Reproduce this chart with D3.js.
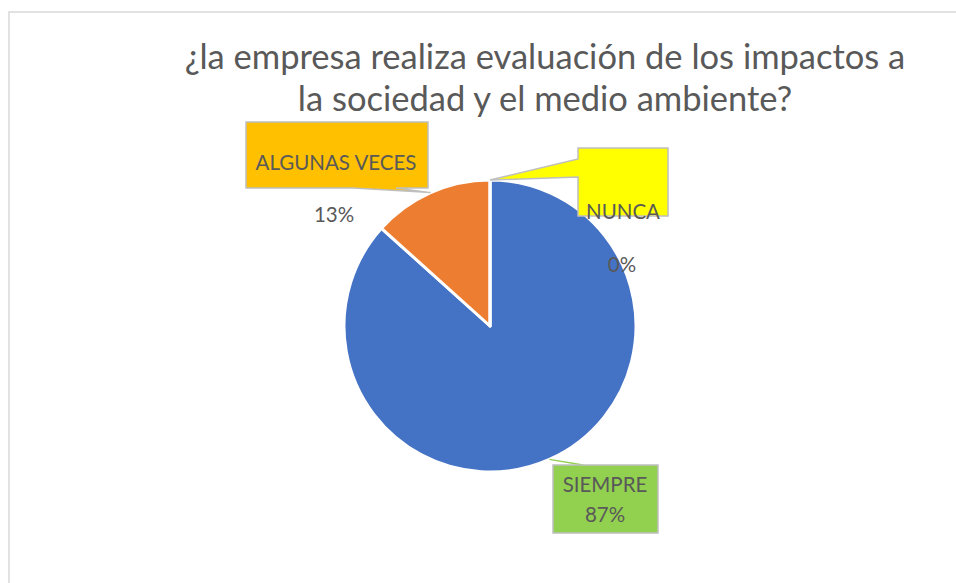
<!DOCTYPE html>
<html>
<head>
<meta charset="utf-8">
<script src="https://cdn.jsdelivr.net/npm/d3@7"></script>
<style>
  body { margin: 0; background: #fff; }
  svg text { font-family: Lato, "Open Sans", sans-serif; fill: #595959; }
</style>
</head>
<body>
<div class="chart"></div>
<script>
// data
var categories = ["SIEMPRE", "ALGUNAS VECES", "NUNCA"];
var counts = [26, 4, 0];
var sliceColors = ["#4472C4", "#ED7D31", "#A5A5A5"];
var boxColors = ["#92D050", "#FFC000", "#FFFF00"];
var titleLines = ["¿la empresa realiza evaluación de los impactos a", "la sociedad y el medio ambiente?"];

var width = 956, height = 583;
var cx = 490, cy = 326, radius = 146;

var svg = d3.select(".chart").append("svg")
    .attr("width", width)
    .attr("height", height);

// chart area border (only left and top visible)
svg.append("rect")
    .attr("x", 9).attr("y", 12)
    .attr("width", 1000).attr("height", 700)
    .attr("fill", "#fff")
    .attr("stroke", "#D9D9D9")
    .attr("stroke-width", 1.5);

// title
svg.selectAll(".title")
    .data(titleLines)
    .enter().append("text")
    .attr("class", "title")
    .attr("x", 545)
    .attr("y", function(d, i) { return 69 + i * 42; })
    .attr("text-anchor", "middle")
    .style("font-size", "34.5px")
    .text(function(d) { return d; });

var total = d3.sum(counts);
var pie = d3.pie().sort(null).value(function(d) { return d; });
var arcs = pie(counts);
var arc = d3.arc().innerRadius(0).outerRadius(radius);

var g = svg.append("g").attr("transform", "translate(" + cx + "," + cy + ")");

g.selectAll(".slice")
    .data(arcs)
    .enter().append("path")
    .attr("class", "slice")
    .attr("d", arc)
    .attr("fill", function(d, i) { return sliceColors[i]; })
    .attr("stroke", "#fff")
    .attr("stroke-width", 3)
    .attr("stroke-linejoin", "round");

// point on the pie edge at the middle of a slice
function edgePoint(d) {
    var a = (d.startAngle + d.endAngle) / 2;
    return [cx + radius * Math.sin(a), cy - radius * Math.cos(a)];
}

function pct(v) { return Math.round(100 * v / total) + "%"; }

// label boxes: [x, y, w, h], and where the texts go
var boxes = [
    {box: [553, 465, 105, 68], name: [605, 492], value: [605, 522]},
    {box: [246, 122, 182, 66], name: [336, 170], value: [334, 222], tail: [353, 396]},
    {box: [578, 148, 90, 68], name: [623, 219], value: [622, 272], tail: [159, 177]}
];

arcs.forEach(function(d, i) {
    var b = boxes[i], p = edgePoint(d);
    var x = b.box[0], y = b.box[1], w = b.box[2], h = b.box[3];
    var path;
    if (i == 1) {
        // tail from bottom edge
        path = "M" + x + "," + y + "H" + (x + w) + "V" + (y + h) + "H" + b.tail[1] +
            "L" + p[0] + "," + p[1] + "L" + b.tail[0] + "," + (y + h) + "H" + x + "Z";
    } else if (i == 2) {
        // tail from left edge
        path = "M" + x + "," + y + "H" + (x + w) + "V" + (y + h) + "H" + x + "V" + b.tail[1] +
            "L" + p[0] + "," + p[1] + "L" + x + "," + b.tail[0] + "Z";
    } else {
        svg.append("line")
            .attr("x1", p[0]).attr("y1", p[1])
            .attr("x2", x + 30).attr("y2", y)
            .attr("stroke", boxColors[i])
            .attr("stroke-width", 1.5);
        path = "M" + x + "," + y + "h" + w + "v" + h + "h" + (-w) + "Z";
    }
    svg.append("path")
        .attr("d", path)
        .attr("fill", boxColors[i])
        .attr("stroke", "#BFBFBF")
        .attr("stroke-width", 1.5);
});

arcs.forEach(function(d, i) {
    var b = boxes[i];
    svg.append("text")
        .attr("x", b.name[0]).attr("y", b.name[1])
        .attr("text-anchor", "middle")
        .style("font-size", "20.5px")
        .text(categories[i]);
    svg.append("text")
        .attr("x", b.value[0]).attr("y", b.value[1])
        .attr("text-anchor", "middle")
        .style("font-size", "20.5px")
        .text(pct(d.data));
});
</script>
</body>
</html>
